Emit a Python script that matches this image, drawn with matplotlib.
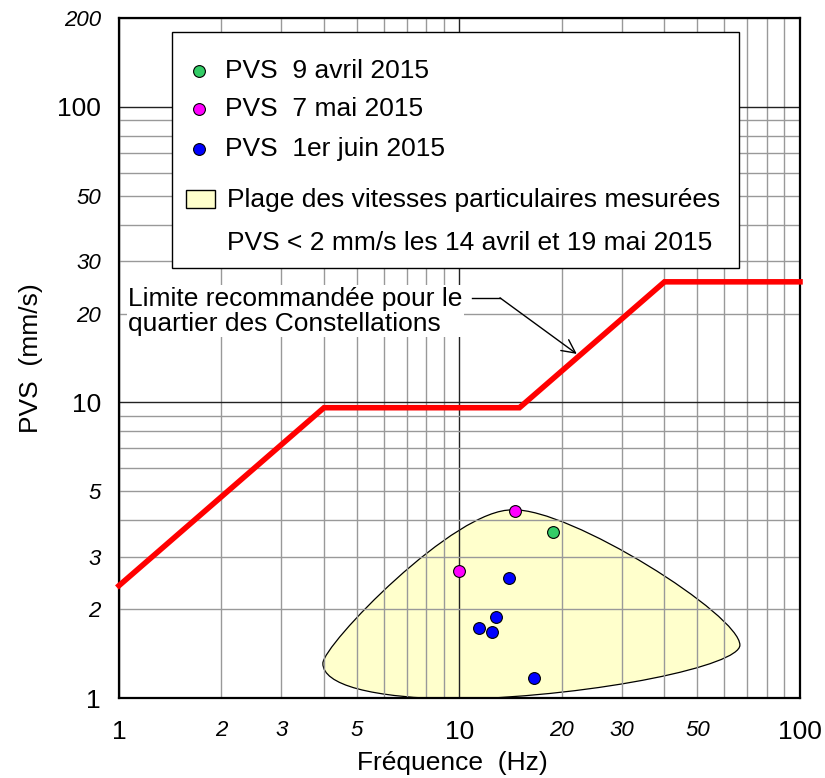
import matplotlib
matplotlib.use('Agg')
import matplotlib.pyplot as plt
from matplotlib.path import Path
from matplotlib.patches import PathPatch, Rectangle

plt.rcParams['font.family'] = ['Liberation Sans', 'DejaVu Sans']

# Limite recommandée (Hz, mm/s)
limite_freq = [1, 4, 15, 40, 100]
limite_pvs = [2.4, 9.6, 9.6, 25.6, 25.6]

# Mesures
avril_freq = [18.8]
avril_pvs = [3.65]
mai_freq = [14.6, 10.0]
mai_pvs = [4.29, 2.69]
juin_freq = [14.0, 12.8, 11.4, 12.5, 16.5]
juin_pvs = [2.55, 1.88, 1.73, 1.67, 1.17]

# Contour de la plage mesurée (points de Bézier, Hz / mm/s)
plage_freq = [3.97, 3.97, 9.70, 14.36, 21.1, 66.6, 66.6, 66.6, 25.9, 10.0, 5.46, 3.97, 3.97]
plage_pvs = [1.31, 1.51, 4.40, 4.33, 4.40, 1.91, 1.51, 1.29, 1.02, 0.99, 1.0, 1.11, 1.31]

x_major = [1, 10, 100]
x_minor = [2, 3, 4, 5, 6, 7, 8, 9, 20, 30, 40, 50, 60, 70, 80, 90]
x_minor_labels = ['2', '3', '', '5', '', '', '', '', '20', '30', '', '50', '', '', '', '']
y_major = [1, 10, 100]
y_minor = [2, 3, 4, 5, 6, 7, 8, 9, 20, 30, 40, 50, 60, 70, 80, 90, 200]
y_minor_labels = ['2', '3', '', '5', '', '', '', '', '20', '30', '', '50', '', '', '', '', '200']

fig = plt.figure(figsize=(8.25, 7.78), dpi=100)
ax = fig.add_axes([0.1442, 0.1028, 0.8255, 0.8741])
ax.set_xscale('log')
ax.set_yscale('log')
ax.set_xlim(1, 100)
ax.set_ylim(1, 200)

# plage des vitesses
codes = [Path.MOVETO] + [Path.CURVE4] * 12
verts = list(zip(plage_freq, plage_pvs))
plage = PathPatch(Path(verts, codes), facecolor='#ffffcc', edgecolor='black', lw=0.9, zorder=0.3)
ax.add_patch(plage)

# grille
ax.set_axisbelow(True)
ax.set_xticks(x_major, labels=[str(v) for v in x_major], fontsize=19)
ax.set_xticks(x_minor, labels=x_minor_labels, minor=True, fontsize=16, fontstyle='italic')
ax.set_yticks(y_major, labels=[str(v) for v in y_major], fontsize=19)
ax.set_yticks(y_minor, labels=y_minor_labels, minor=True, fontsize=16, fontstyle='italic')
ax.tick_params(axis='both', which='both', length=0)
ax.tick_params(axis='x', which='both', pad=16)
ax.tick_params(axis='y', which='both', pad=13)
ax.grid(True, which='minor', color='#999999', lw=1)
ax.grid(True, which='major', color='#222222', lw=1)
for s in ax.spines.values():
    s.set_linewidth(1.6)

ax.plot(limite_freq, limite_pvs, color='#ff0000', lw=4, solid_joinstyle='miter', zorder=3, clip_on=False)

mk = dict(ls='none', marker='o', ms=8.5, mec='black', mew=0.8, zorder=4)
ax.plot(avril_freq, avril_pvs, mfc='#33cc66', **mk)
ax.plot(mai_freq, mai_pvs, mfc='#ff00ff', **mk)
ax.plot(juin_freq, juin_pvs, mfc='#0000ff', **mk)

ax.set_xlabel('Fréquence  (Hz)', fontsize=19)
ax.xaxis.set_label_coords(0.489, -0.078)
ax.set_ylabel('PVS  (mm/s)', fontsize=19, labelpad=10)

# annotation limite
ax.text(0.0132, 0.569, 'Limite recommandée pour le\nquartier des Constellations', transform=ax.transAxes,
        fontsize=19, va='center', ha='left', linespacing=1.05, zorder=5,
        bbox=dict(facecolor='white', edgecolor='none', pad=1))
ax.plot([10.9, 13.15], [22.6, 22.6], color='black', lw=1, zorder=6)
ax.annotate('', xy=(22.1, 14.6), xytext=(13.15, 22.6),
            arrowprops=dict(arrowstyle='->', color='black', lw=1, mutation_scale=24,
                            shrinkA=0, shrinkB=0), zorder=6)

# légende
ax.add_patch(Rectangle((0.0778, 0.6324), 0.8326, 0.347, transform=ax.transAxes,
                       facecolor='white', edgecolor='black', lw=1, zorder=7))
rows = [('#33cc66', 'PVS  9 avril 2015', 0.9225),
        ('#ff00ff', 'PVS  7 mai 2015', 0.866),
        ('#0000ff', 'PVS  1er juin 2015', 0.807)]
for col, lab, yy in rows:
    ax.plot([0.1175], [yy], transform=ax.transAxes, ls='none', marker='o', ms=8.5,
            mfc=col, mec='black', mew=0.8, zorder=8, clip_on=False)
    ax.text(0.1557, yy, lab, transform=ax.transAxes, fontsize=19, va='center', ha='left', zorder=8)
ax.add_patch(Rectangle((0.0984, 0.7206), 0.0426, 0.0265, transform=ax.transAxes,
                       facecolor='#ffffcc', edgecolor='black', lw=1, zorder=8))
ax.text(0.1586, 0.7324, 'Plage des vitesses particulaires mesurées', transform=ax.transAxes,
        fontsize=19, va='center', ha='left', zorder=8)
ax.text(0.1586, 0.669, 'PVS < 2 mm/s les 14 avril et 19 mai 2015', transform=ax.transAxes,
        fontsize=19, va='center', ha='left', zorder=8)

fig.savefig('out.png', dpi=100)
